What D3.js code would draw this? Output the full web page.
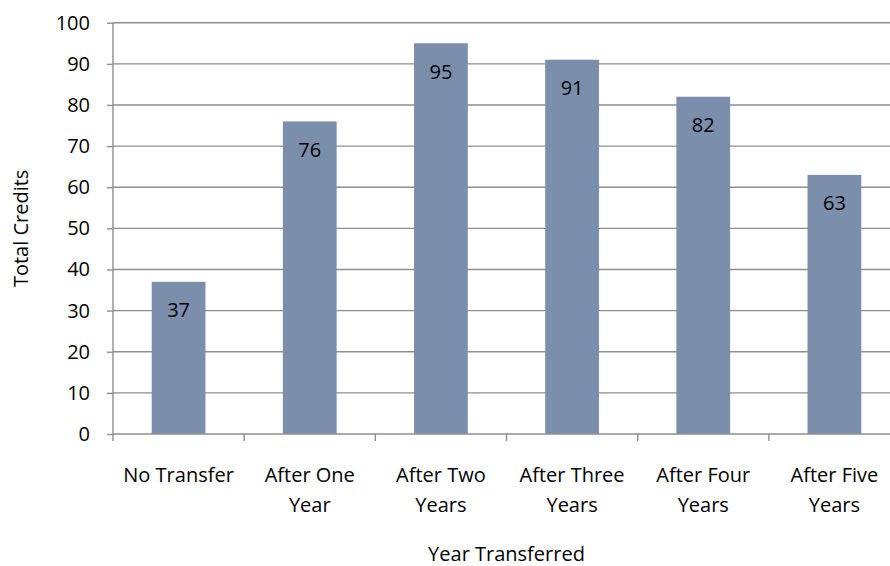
<!DOCTYPE html>
<html>
<head>
<meta charset="utf-8">
<script src="https://cdn.jsdelivr.net/npm/d3@7"></script>
<style>
  html, body { margin: 0; padding: 0; background: #fff; }
  svg { display: block; }
  text { font-family: "Open Sans", Lato, sans-serif; fill: #000; }
</style>
</head>
<body>
<svg id="chart" width="890" height="566"></svg>
<script>
// Total credits earned, by the year a student transferred
const categories = ["No Transfer", "After One Year", "After Two Years",
                    "After Three Years", "After Four Years", "After Five Years"];
const tickLines = [["No Transfer"], ["After One", "Year"], ["After Two", "Years"],
                   ["After Three", "Years"], ["After Four", "Years"], ["After Five", "Years"]];
const credits = [37, 76, 95, 91, 82, 63];
const yTicks = [0, 10, 20, 30, 40, 50, 60, 70, 80, 90, 100];
const xTitle = "Year Transferred";
const yTitle = "Total Credits";

const svg = d3.select("#chart");
const plotLeft = 113, plotRight = 900, plotTop = 22.7, plotBottom = 434;
const gridColor = "#8e8e8e";
const fontSize = 20;

const x = d3.scaleBand().domain(categories).range([plotLeft, plotRight])
  .paddingInner(0.59).paddingOuter(0.295);
const slot = d3.scaleBand().domain(categories).range([plotLeft, plotRight]).padding(0);
const y = d3.scaleLinear().domain([0, 100]).range([plotBottom, plotTop]);

// horizontal gridlines
svg.append("g").selectAll("line").data(yTicks.filter(d => d > 0)).join("line")
  .attr("x1", plotLeft).attr("x2", plotRight)
  .attr("y1", d => y(d)).attr("y2", d => y(d))
  .attr("stroke", gridColor).attr("stroke-width", 1.4);

// bars
svg.append("g").selectAll("rect").data(credits).join("rect")
  .attr("x", (d, i) => x(categories[i]))
  .attr("width", x.bandwidth())
  .attr("y", d => y(d))
  .attr("height", d => plotBottom - y(d))
  .attr("fill", "#7b8fac");

// value labels inside the bar tops
svg.append("g").selectAll("text").data(credits).join("text")
  .attr("x", (d, i) => x(categories[i]) + x.bandwidth() / 2)
  .attr("y", d => y(d) + 28)
  .attr("text-anchor", "middle").attr("dominant-baseline", "central")
  .attr("font-size", fontSize)
  .text(d => d);

// y axis
const yAxis = svg.append("g").attr("transform", `translate(${plotLeft},0)`)
  .call(d3.axisLeft(y).tickValues(yTicks).tickSize(6).tickPadding(17));
yAxis.select(".domain").attr("stroke", gridColor).attr("stroke-width", 1.4)
  .attr("d", `M0,${plotTop}V${plotBottom}`);
yAxis.selectAll(".tick line").attr("stroke", gridColor).attr("stroke-width", 1.4);
yAxis.selectAll(".tick text").attr("font-size", fontSize)
  .attr("font-family", "'Open Sans', Lato, sans-serif").attr("fill", "#000");

// x axis baseline with boundary ticks
const xAxis = svg.append("g");
xAxis.append("line").attr("x1", plotLeft).attr("x2", plotRight)
  .attr("y1", plotBottom).attr("y2", plotBottom)
  .attr("stroke", gridColor).attr("stroke-width", 1.4);
xAxis.selectAll("line.b").data(categories).join("line").attr("class", "b")
  .attr("x1", d => slot(d)).attr("x2", d => slot(d))
  .attr("y1", plotBottom).attr("y2", plotBottom + 7)
  .attr("stroke", gridColor).attr("stroke-width", 1.4);

// category labels, wrapped over two lines
const lbl = xAxis.selectAll("text.c").data(categories).join("text").attr("class", "c")
  .attr("text-anchor", "middle").attr("font-size", fontSize);
lbl.selectAll("tspan").data((d, i) => tickLines[i].map(t => ({ t, c: d }))).join("tspan")
  .attr("x", d => slot(d.c) + slot.bandwidth() / 2)
  .attr("y", (d, j) => 481.5 + j * 30)
  .text(d => d.t);

// axis titles
svg.append("text").attr("x", (plotLeft + plotRight) / 2).attr("y", 561)
  .attr("text-anchor", "middle").attr("font-size", fontSize).text(xTitle);
svg.append("text").attr("transform", `translate(28,${(plotTop + plotBottom) / 2}) rotate(-90)`)
  .attr("text-anchor", "middle").attr("font-size", fontSize).text(yTitle);
</script>
</body>
</html>
